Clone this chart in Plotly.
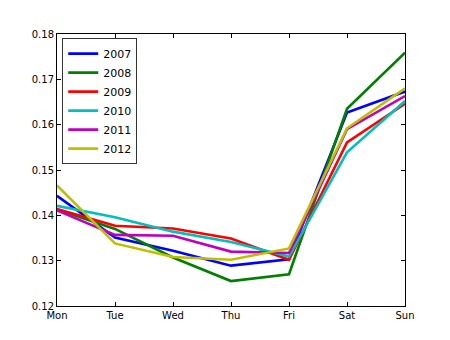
import plotly.graph_objects as go

days = ["Mon", "Tue", "Wed", "Thu", "Fri", "Sat", "Sun"]
years = ["2007", "2008", "2009", "2010", "2011", "2012"]

share_2007 = [0.1443, 0.1351, 0.1322, 0.1289, 0.1303, 0.1627, 0.1673]
share_2008 = [0.1413, 0.1370, 0.1307, 0.1255, 0.1270, 0.1635, 0.1759]
share_2009 = [0.1414, 0.1377, 0.1371, 0.1349, 0.1302, 0.1561, 0.1646]
share_2010 = [0.1421, 0.1396, 0.1364, 0.1341, 0.1309, 0.1539, 0.1652]
share_2011 = [0.1411, 0.1357, 0.1355, 0.1320, 0.1317, 0.1590, 0.1663]
share_2012 = [0.1466, 0.1338, 0.1308, 0.1302, 0.1327, 0.1592, 0.1680]

series = [share_2007, share_2008, share_2009, share_2010, share_2011, share_2012]
colors = ["#0000ff", "#008000", "#ff0000", "#00bfbf", "#bf00bf", "#bfbf00"]

fig = go.Figure()
for name, vals, col in zip(years, series, colors):
    fig.add_trace(go.Scatter(x=days, y=vals, name=name, mode="lines",
                             line=dict(color=col, width=2.6)))

axis_common = dict(showline=True, linecolor="black", linewidth=1, mirror="allticks",
                   ticks="inside", ticklen=4, tickcolor="black", showgrid=False,
                   zeroline=False, tickfont=dict(family="DejaVu Sans", size=10, color="black"))

fig.update_xaxes(range=[0, 6], **axis_common)
fig.update_yaxes(range=[0.12, 0.18], dtick=0.01, tickformat=".2f", **axis_common)

fig.update_layout(
    width=450, height=340,
    margin=dict(l=57, r=45, t=34, b=34),
    paper_bgcolor="white", plot_bgcolor="white",
    font=dict(family="DejaVu Sans", color="black"),
    legend=dict(x=0.015, y=0.985, xanchor="left", yanchor="top",
                bgcolor="white", bordercolor="#333333", borderwidth=1,
                font=dict(size=11), tracegroupgap=0, itemwidth=30),
)

fig.write_html("out.html")
